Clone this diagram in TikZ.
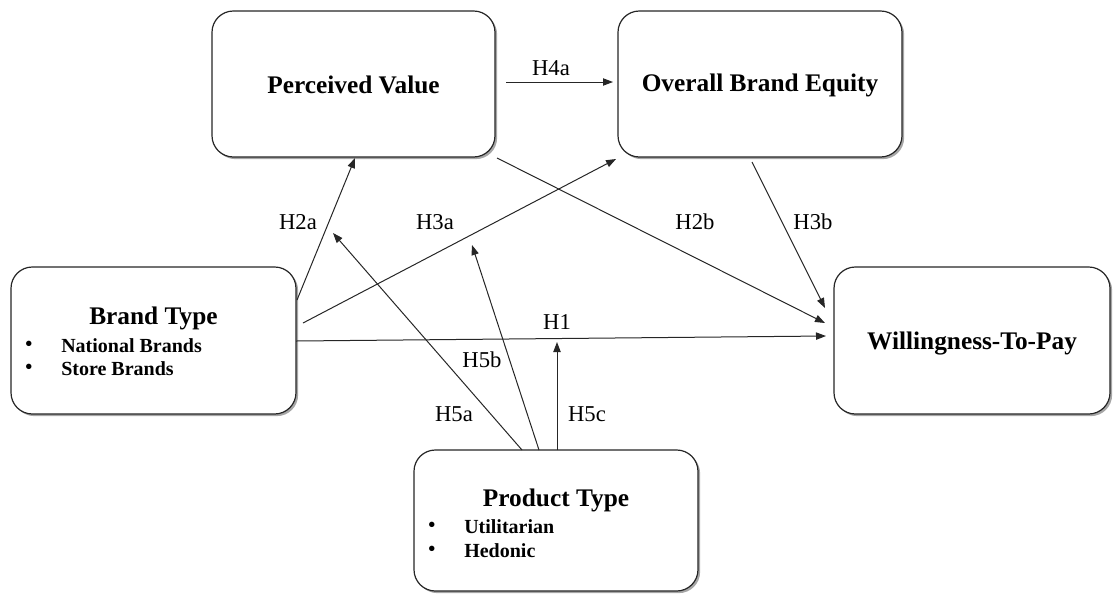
\documentclass[tikz,border=0pt]{standalone}
\usepackage{fontspec}
\setmainfont{Liberation Serif}
\usetikzlibrary{shadows,arrows.meta}
\tikzset{
  box/.style={draw=black!85, line width=0.9pt, rounded corners=16pt, fill=white,
    inner sep=0pt, drop shadow={shadow xshift=1.6pt, shadow yshift=-1.6pt, opacity=0.35, fill=black}},
  ttl/.style={font=\bfseries\fontsize{19}{22}\selectfont, inner sep=0pt},
  itm/.style={font=\bfseries\fontsize{15}{18}\selectfont, inner sep=0pt, anchor=west},
  lbl/.style={font=\fontsize{17}{20}\selectfont, inner sep=0pt},
  arr/.style={draw=black!85, line width=0.75pt, -{Triangle[length=7.5pt,width=5.5pt]}}
}
\begin{document}
\begin{tikzpicture}[x=0.75pt,y=-0.75pt]
\useasboundingbox (0,0) rectangle (1113,594);
% boxes
\node[box, minimum width=212.25pt, minimum height=109.5pt] (pv) at (353.5,84) {};
\node[box, minimum width=213pt, minimum height=109.5pt] (obe) at (760,84) {};
\node[box, minimum width=213.75pt, minimum height=110.25pt] (bt) at (153.5,340.5) {};
\node[box, minimum width=207pt, minimum height=110.25pt] (wtp) at (972,340.5) {};
\node[box, minimum width=213pt, minimum height=105.75pt] (pt) at (556,520.5) {};
% texts
\node[ttl] (pvt) at (353.5,85) {Perceived Value};
\node[ttl] (obet) at (760,85) {Overall Brand Equity};
\node[ttl] (wtpt) at (972,343) {Willingness-To-Pay};
\node[ttl] (btt) at (153.5,318) {Brand Type};
\node[itm] (btb1) at (25,346) {•};
\node[itm] (bti1) at (61,346) {National Brands};
\node[itm] (btb2) at (25,369) {•};
\node[itm] (bti2) at (61,369) {Store Brands};
\node[ttl] (ptt) at (556,500) {Product Type};
\node[itm] (ptb1) at (428,527) {•};
\node[itm] (pti1) at (464,527) {Utilitarian};
\node[itm] (ptb2) at (428,551) {•};
\node[itm] (pti2) at (464,551) {Hedonic};
% connector end points
\coordinate (h4as) at (506,82);  \coordinate (h4ae) at (613,82);
\coordinate (h2as) at (297,300); \coordinate (h2ae) at (355,158);
\coordinate (h3as) at (303,323); \coordinate (h3ae) at (616,159);
\coordinate (h2bs) at (497,158); \coordinate (h2be) at (825,323);
\coordinate (h3bs) at (752,162); \coordinate (h3be) at (825,308);
\coordinate (h1s) at (296,341);  \coordinate (h1e) at (826,336);
\coordinate (h5as) at (522,450); \coordinate (h5ae) at (333,233);
\coordinate (h5bs) at (539,450); \coordinate (h5be) at (472,245);
\coordinate (h5cs) at (557,450); \coordinate (h5ce) at (557,342);
% connectors
\draw[arr] (h4as) -- (h4ae);
\draw[arr] (h2as) -- (h2ae);
\draw[arr] (h3as) -- (h3ae);
\draw[arr] (h2bs) -- (h2be);
\draw[arr] (h3bs) -- (h3be);
\draw[arr] (h1s) -- (h1e);
\draw[arr] (h5as) -- (h5ae);
\draw[arr] (h5bs) -- (h5be);
\draw[arr] (h5cs) -- (h5ce);
% labels
\node[lbl] (l4a) at (551,68) {H4a};
\node[lbl] (l2a) at (298,222) {H2a};
\node[lbl] (l3a) at (435,222) {H3a};
\node[lbl] (l2b) at (695,222) {H2b};
\node[lbl] (l3b) at (813,222) {H3b};
\node[lbl] (l1) at (557,322) {H1};
\node[lbl] (l5a) at (454,414) {H5a};
\node[lbl] (l5b) at (482,360) {H5b};
\node[lbl] (l5c) at (587,414) {H5c};
\end{tikzpicture}
\end{document}
